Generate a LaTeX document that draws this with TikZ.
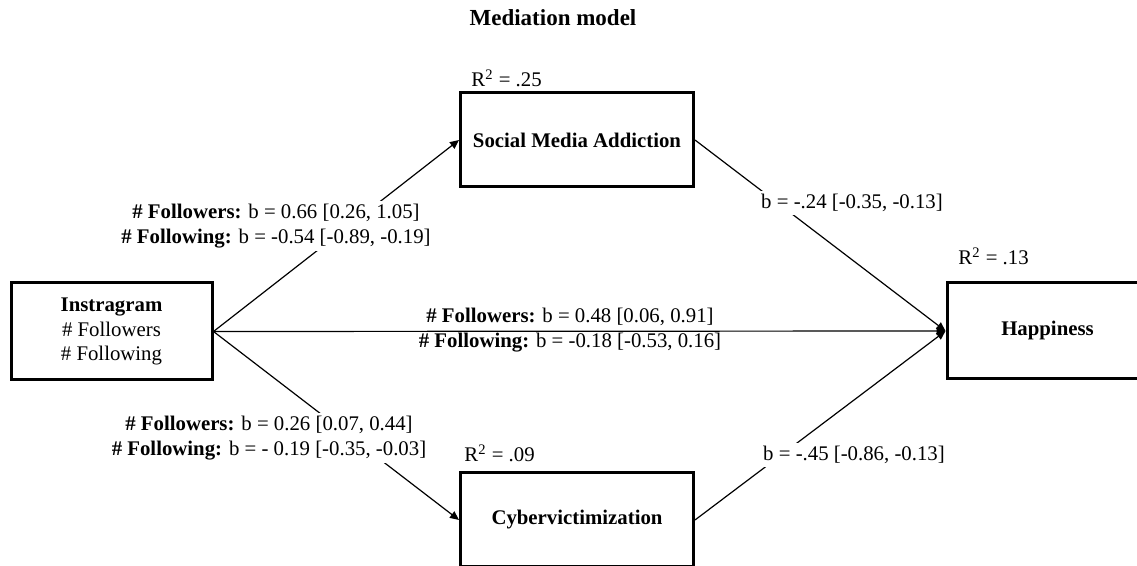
\documentclass[tikz,border=0pt]{standalone}
\usepackage{fontspec}
\setmainfont{Liberation Serif}
\usetikzlibrary{arrows.meta}

\tikzset{
  varbox/.style={draw, line width=1.5pt, minimum width=116.5pt, minimum height=47pt,
    align=center, font=\fontsize{10.4}{12.4}\selectfont\bfseries},
  effect/.style={-{Triangle[length=4.5pt,width=4pt]}, line width=0.6pt},
  coef/.style={align=center, inner sep=1.5pt, font=\fontsize{10.4}{12.4}\selectfont},
}

\begin{document}
\begin{tikzpicture}[x=0.5pt,y=-0.5pt]
  \useasboundingbox (0,0) rectangle (1137,566);

  \node[font=\fontsize{11.5}{14}\selectfont\bfseries] (title) at (553,18) {Mediation model};

  % variables
  \node[varbox, minimum width=100.5pt, minimum height=48.5pt,
        font=\fontsize{10.4}{12.4}\selectfont] (inst) at (111.5,331.5)
        {\textbf{Instragram}\\\# Followers\\\# Following};
  \node[varbox] (sma) at (577,140) {Social Media Addiction};
  \node[varbox] (cyber) at (577,520) {Cybervictimization};
  \node[varbox, minimum width=100.5pt, minimum height=48pt] (happy) at (1047.5,331) {Happiness};

  % explained variance
  \node[coef, anchor=base west] (r2sma) at (468,87) {R\textsuperscript{2} = .25};
  \node[coef, anchor=base west] (r2happy) at (955,265) {R\textsuperscript{2} = .13};
  \node[coef, anchor=base west] (r2cyber) at (461,462) {R\textsuperscript{2} = .09};

  % paths
  \draw[effect] (inst.east) -- (sma.west);
  \draw[effect] (inst.east) -- (cyber.west);
  \draw[effect] (inst.east) -- (happy.west);
  \draw[effect] (sma.east) -- (happy.west);
  \draw[effect] (cyber.east) -- (happy.west);

  % coefficients
  \node[coef, fill=white] (aup) at (276,226)
    {\textbf{\# Followers:} b = 0.66 [0.26, 1.05]\\\textbf{\# Following:} b = -0.54 [-0.89, -0.19]};
  \node[coef, fill=white] (alow) at (269,438)
    {\textbf{\# Followers:} b = 0.26 [0.07, 0.44]\\\textbf{\# Following:} b = - 0.19 [-0.35, -0.03]};
  \node[coef] (cdirect) at (570,330)
    {\textbf{\# Followers:} b = 0.48 [0.06, 0.91]\\\textbf{\# Following:} b = -0.18 [-0.53, 0.16]};
  \node[coef, fill=white] (bup) at (852,203) {b = -.24 [-0.35, -0.13]};
  \node[coef, fill=white] (blow) at (854,455) {b = -.45 [-0.86, -0.13]};
\end{tikzpicture}
\end{document}
